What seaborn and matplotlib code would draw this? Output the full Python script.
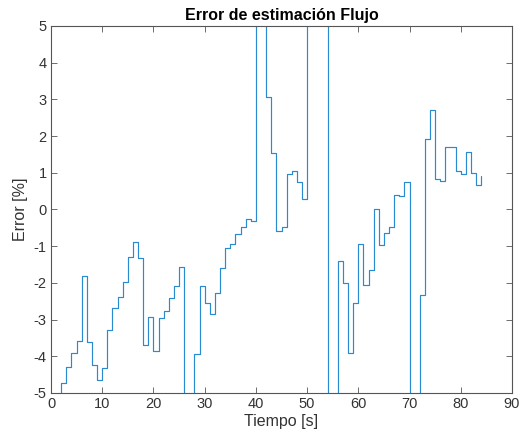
import numpy as np
import pandas as pd
import matplotlib
matplotlib.use("Agg")
import matplotlib.pyplot as plt
import seaborn as sns

# Step times [s]
tiempo = [1, 2, 3, 4, 5, 6, 7, 8, 9, 10, 11, 12, 13, 14, 15, 16, 17, 18, 19, 20,
          21, 22, 23, 24, 25, 26, 28, 29, 30, 31, 32, 33, 34, 35, 36, 37, 38, 39,
          40, 42, 43, 44, 45, 46, 47, 48, 49, 50, 54, 56, 57, 58, 59, 60, 61, 62,
          63, 64, 65, 66, 67, 68, 69, 70, 72, 73, 74, 75, 76, 77, 78, 79, 80, 81,
          82, 83, 84]
# Error values [%] (values beyond +/-5 are off the visible range)
error = [-12, -4.74, -4.28, -3.90, -3.57, -1.82, -3.60, -4.25, -4.65, -4.31,
         -3.27, -2.68, -2.39, -1.98, -1.29, -0.89, -1.32, -3.69, -2.92, -3.86,
         -2.95, -2.77, -2.41, -2.08, -1.57, -12, -3.95, -2.08, -2.56, -2.86,
         -2.27, -1.59, -1.04, -0.95, -0.67, -0.49, -0.26, -0.32, 12, 3.07,
         1.55, -0.58, -0.47, 0.96, 1.05, 0.75, 0.28, 12, -12, -1.41, -1.99,
         -3.91, -2.54, -0.94, -2.07, -1.64, 0.00, -0.98, -0.64, -0.49, 0.40,
         0.36, 0.74, -12, -2.34, 1.91, 2.72, 0.83, 0.78, 1.71, 1.70, 1.04,
         0.98, 1.57, 1.00, 0.67, 0.92]

x_ticks = [0, 10, 20, 30, 40, 50, 60, 70, 80, 90]
y_ticks = [-5, -4, -3, -2, -1, 0, 1, 2, 3, 4, 5]

df = pd.DataFrame({"Tiempo": tiempo, "Error": error})

sns.set_theme(style="white")
plt.rcParams['font.family'] = ['Liberation Sans', 'DejaVu Sans']

fig = plt.figure(figsize=(5.27, 4.42), dpi=100)
ax = fig.add_axes([51/527, 1 - 393/442, (512 - 51)/527, (393 - 26)/442])

sns.lineplot(data=df, x="Tiempo", y="Error", ax=ax, color="#2a8ad0",
             linewidth=0.85, drawstyle="steps-post", estimator=None, sort=False)

ax.set_xlim(0, 90)
ax.set_ylim(-5, 5)
ax.set_xticks(x_ticks)
ax.set_yticks(y_ticks)
ax.set_xticklabels([str(v) for v in x_ticks])
ax.set_yticklabels([str(v) for v in y_ticks])

axcol = "#333333"
for s in ax.spines.values():
    s.set_visible(True)
    s.set_color("#555555")
    s.set_linewidth(0.8)
ax.tick_params(axis="both", which="both", direction="in", length=4, width=0.6,
               colors="#555555", labelcolor=axcol, labelsize=10.5,
               top=True, right=True, bottom=True, left=True, pad=3)

ax.set_xlabel("Tiempo [s]", fontsize=11.5, color=axcol, labelpad=2)
ax.set_ylabel("Error [%]", fontsize=11.5, color=axcol, labelpad=4)
ax.set_title("Error de estimación Flujo", fontsize=11.5, fontweight="bold",
             color="black", pad=4)

fig.savefig("out.png", dpi=100, facecolor="white")
